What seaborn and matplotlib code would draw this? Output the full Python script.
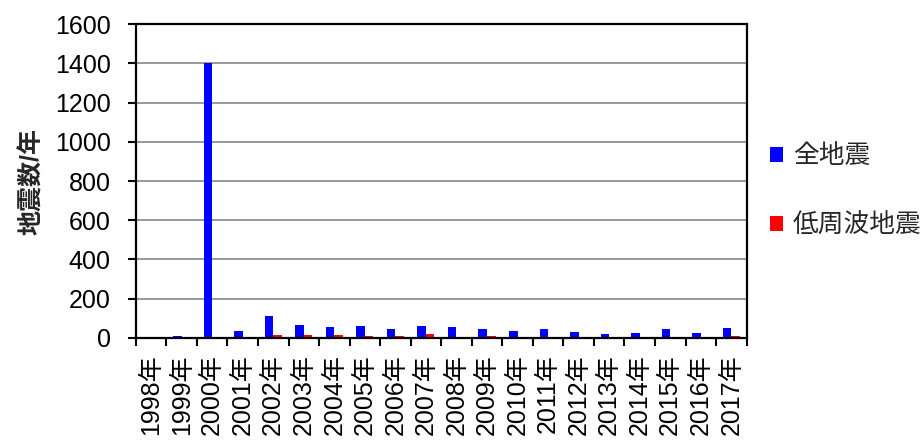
import matplotlib
matplotlib.use("Agg")
import matplotlib.pyplot as plt
import seaborn as sns
import pandas as pd
import numpy as np

# Annual earthquake counts
years = [f"{y}年" for y in range(1998, 2018)]
all_quakes = [1, 9, 1400, 34, 110, 65, 55, 60, 48, 62, 57, 43, 34, 45, 29, 19, 24, 45, 24, 50]
low_freq = [0, 0, 5, 5, 17, 16, 17, 9, 9, 19, 5, 9, 0, 0, 1, 1, 0, 1, 0, 9]
series_names = ["全地震", "低周波地震"]
y_ticks = [0, 200, 400, 600, 800, 1000, 1200, 1400, 1600]

df = pd.DataFrame({
    "年": years * 2,
    "件数": all_quakes + low_freq,
    "種別": [series_names[0]] * len(years) + [series_names[1]] * len(years),
})

sns.set_theme(style="white")
fonts = ["Liberation Sans", "Noto Sans CJK JP"]
plt.rcParams["font.family"] = fonts

fig = plt.figure(figsize=(9.24, 4.4), dpi=100)
ax = fig.add_axes([0.147, 0.232, 0.661, 0.713])

sns.barplot(data=df, x="年", y="件数", hue="種別", palette=["#0000FF", "#FF0000"],
            width=0.56, gap=0, saturation=1, linewidth=0, ax=ax, legend=True)

ax.set_xlim(-0.5, len(years) - 0.5)
ax.set_ylim(0, 1600)
ax.set_yticks(y_ticks)
ax.set_yticklabels([str(v) for v in y_ticks], fontsize=18, color="black")
ax.yaxis.grid(True, color="#999999", linewidth=1.4)
ax.set_axisbelow(True)

# category labels at centres, tick marks at category boundaries
ax.set_xticks(np.arange(len(years)))
ax.set_xticklabels(years, rotation=90, fontsize=18, color="black")
ax.set_xticks(np.arange(len(years) + 1) - 0.5, minor=True)
ax.tick_params(axis="x", which="major", length=0, pad=12)
ax.tick_params(axis="x", which="minor", direction="out", length=6, width=1.5, color="black", bottom=True)
ax.tick_params(axis="y", direction="out", length=6, width=1.5, color="black", left=True, pad=12)

for side in ["left", "right", "top", "bottom"]:
    ax.spines[side].set_visible(True)
    ax.spines[side].set_color("black")
    ax.spines[side].set_linewidth(1.6)

ax.set_xlabel("")
ax.set_ylabel("地震数/年", fontsize=18, fontweight="bold", labelpad=8)

handles, labels = ax.get_legend_handles_labels()
ax.get_legend().remove()
fig.legend(handles, labels, loc="upper left", bbox_to_anchor=(0.833, 0.672),
           frameon=False, fontsize=18.5, handlelength=0.5, handleheight=0.5,
           handletextpad=0.4, labelspacing=1.75, borderpad=0, borderaxespad=0)

fig.savefig("out.png", dpi=100)
